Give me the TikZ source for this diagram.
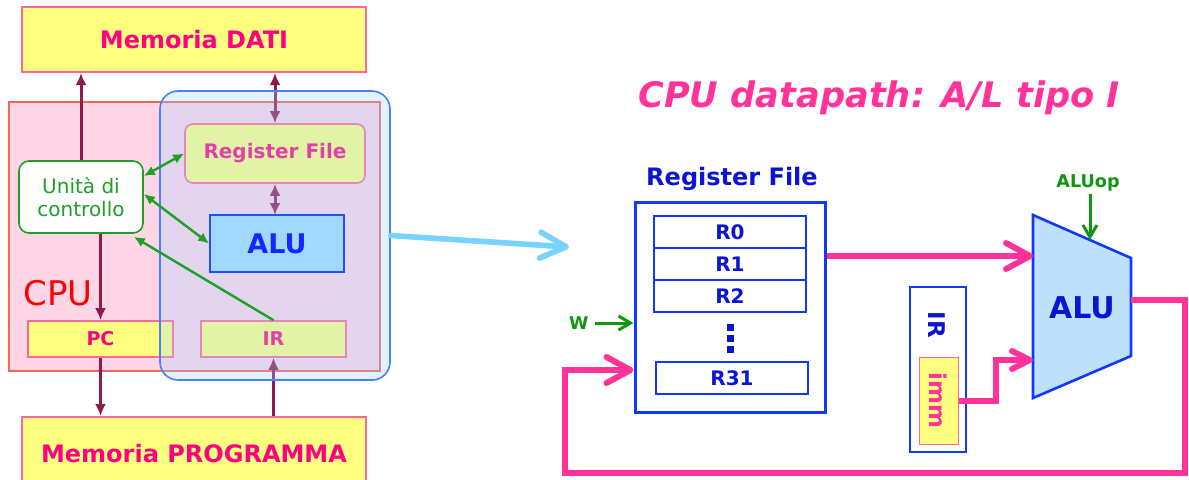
\documentclass[tikz,border=0pt]{standalone}
\usepackage{fontspec}
\setmainfont{DejaVu Sans}
\usepackage{tikz}
\usetikzlibrary{arrows.meta}
\definecolor{memyellow}{RGB}{255,255,128}
\definecolor{memborder}{RGB}{255,102,153}
\definecolor{memtext}{RGB}{255,0,128}
\definecolor{cpupink}{RGB}{255,214,230}
\definecolor{cpuborder}{RGB}{240,100,90}
\definecolor{cpured}{RGB}{255,0,0}
\definecolor{busmaroon}{RGB}{142,26,80}
\definecolor{ctrlgreen}{RGB}{30,160,40}
\definecolor{aluleftfill}{RGB}{160,216,255}
\definecolor{aluleftborder}{RGB}{30,80,255}
\definecolor{alulefttext}{RGB}{20,40,255}
\definecolor{dpoverlay}{RGB}{162,212,255}
\definecolor{dpborder}{RGB}{70,130,245}
\definecolor{dparrow}{RGB}{120,212,255}
\definecolor{titlepink}{RGB}{255,51,153}
\definecolor{rfblue}{RGB}{16,56,255}
\definecolor{rftext}{RGB}{10,20,210}
\definecolor{alufill}{RGB}{190,224,250}
\definecolor{sigreen}{RGB}{16,150,16}

\begin{document}
\begin{tikzpicture}[x=0.5pt, y=-0.5pt,
    memblock/.style={draw=memborder, line width=1pt, fill=memyellow, text=memtext,
        font=\bfseries\fontsize{12}{14}\selectfont, minimum width=172pt, inner sep=0pt},
    cpureg/.style={draw=memborder, line width=0.8pt, fill=memyellow, text=memtext,
        font=\bfseries\fontsize{9.5}{11}\selectfont, minimum width=72.5pt, minimum height=18pt, inner sep=0pt},
    bus/.style={busmaroon, line width=1.5pt},
    ctrlsig/.style={ctrlgreen, line width=1.2pt},
    datawire/.style={titlepink, line width=3pt, line join=miter},
    rfrow/.style={draw=rfblue, line width=0.7pt, fill=white, text=rftext,
        font=\bfseries\fontsize{10}{12}\selectfont, minimum width=76pt, minimum height=16pt, inner sep=0pt},
    sigtext/.style={text=sigreen, font=\bfseries\fontsize{8.8}{10}\selectfont, inner sep=1pt},
    bigbarb/.tip={Straight Barb[length=12pt, width=13pt, round]},
    smallbarb/.tip={Straight Barb[length=9pt, width=9pt, round]},
    sigbarb/.tip={Straight Barb[length=6pt, width=7pt]},
    bushead/.tip={Latex[length=6pt, width=5.5pt]},
    ctrlhead/.tip={Latex[length=5.5pt, width=5pt]}
]
    \useasboundingbox (0,0) rectangle (1189,479);

    % left: the CPU and its memories
    \node(cpu)[draw=cpuborder, line width=0.8pt, fill=cpupink,
        minimum width=185.5pt, minimum height=134.5pt] at (194.5,236.5) {};
    \node(cpulabel)[anchor=base west, inner sep=0pt, text=cpured,
        font=\fontsize{17}{19}\selectfont] at (23,305) {CPU};

    \node(memdati)[memblock, minimum height=32.5pt] at (194,39.5) {Memoria DATI};
    \node(memprog)[memblock, minimum height=36.5pt] at (194,453.5) {Memoria PROGRAMMA};

    \node(regfile)[draw=memborder, line width=0.8pt, fill=memyellow, text=memtext,
        rounded corners=4pt, font=\bfseries\fontsize{10}{12}\selectfont,
        minimum width=90pt, minimum height=29.5pt, inner sep=0pt] at (275,153.5) {Register File};
    \node(pc)[cpureg] at (100.5,339) {PC};
    \node(ir)[cpureg] at (273.5,339) {IR};

    \node(ctrl)[draw=ctrlgreen, line width=0.8pt, fill=white, rounded corners=5pt,
        text=ctrlgreen, align=center, font=\fontsize{10}{11.5}\selectfont,
        minimum width=62pt, minimum height=36pt, inner sep=0pt] at (81,197) {Unità di\\controllo};

    \draw[bus, -{bushead}] (ctrl.north) -- (ctrl.north |- memdati.south);
    \draw[bus, {bushead}-{bushead}] (regfile.north |- memdati.south) -- (regfile.north);
    \draw[bus, {bushead}-{bushead}] (regfile.south) -- (regfile.south |- 0,215);
    \draw[bus, -{bushead}] (pc.north |- ctrl.south) -- (pc.north);
    \draw[bus, -{bushead}] (pc.south) -- (pc.south |- memprog.north);
    \draw[bus, -{bushead}] (ir.south |- memprog.north) -- (ir.south);

    % the datapath part, seen through
    \node(dpzone)[draw=dpborder, line width=0.8pt, fill=dpoverlay, fill opacity=0.3,
        rounded corners=9pt, minimum width=115pt, minimum height=144.5pt] at (275,235.5) {};

    \node(alu)[draw=aluleftborder, line width=0.8pt, fill=aluleftfill, text=alulefttext,
        font=\bfseries\fontsize{13.5}{15}\selectfont,
        minimum width=67pt, minimum height=28.5pt, inner sep=0pt] at (277,243.5) {ALU};

    \draw[ctrlsig, {ctrlhead}-{ctrlhead}] ([yshift=10.5pt]ctrl.east) -- (regfile.west);
    \draw[ctrlsig, {ctrlhead}-{ctrlhead}] ([yshift=1.5pt]ctrl.east) -- (alu.west);
    \draw[ctrlsig, -{ctrlhead}] (ir.north) -- ([xshift=-5pt,yshift=-1.5pt]ctrl.south east);

    \coordinate (dpin) at (569,247);
    \draw[dparrow, line width=2.8pt, line cap=round, -{Straight Barb[length=13pt, width=13pt, round]}]
        (dpzone.east) -- (dpin);

    % right: datapath A/L tipo I
    \node(title)[anchor=base, inner sep=0pt, text=titlepink,
        font=\bfseries\itshape\fontsize{17.6}{20}\selectfont] at (879,107) {CPU datapath: A/L tipo I};

    \node(rftitle)[anchor=base, inner sep=0pt, text=rftext,
        font=\bfseries\fontsize{12}{14}\selectfont] at (732,185) {Register File};
    \node(rf)[draw=rfblue, line width=1.5pt, fill=white,
        minimum width=95pt, minimum height=105pt] at (730,307) {};

    \def\regnames{R0, R1, R2}
    \foreach \reg [count=\i from 0] in \regnames {
        \node(row-\i)[rfrow] at (730, 232+\i*32) {\reg};
    }
    \foreach \i in {0,1,2} {
        \node(dot-\i)[fill=rftext, minimum size=3.5pt, inner sep=0pt] at (730, 327+\i*11) {};
    }
    \node(row-31)[rfrow] at (732,378) {R31};

    \node(wlab)[sigtext, anchor=east] at (591,323) {W};
    \draw[sigreen, line width=1.5pt, -{sigbarb}] ([xshift=2pt]wlab.east) -- (wlab.east -| rf.west);

    % ALU
    \draw[draw=rfblue, line width=1.3pt, fill=alufill]
        (1033,215) -- (1131,258) -- (1131,356) -- (1033,398) -- cycle;
    \node(alur)[text=rftext, font=\bfseries\fontsize{15}{17}\selectfont] at (1082,308) {ALU};
    \coordinate (aluina) at (1033,256);
    \coordinate (aluinb) at (1033,360);
    \coordinate (aluout) at (1131,300);
    \coordinate (alutop) at (1090,240);

    \node(aluop)[sigtext] at (1088,183) {ALUop};
    \draw[sigreen, line width=1.5pt, -{sigbarb}] (aluop.south -| alutop) -- (alutop);

    % IR and its immediate field
    \node(irbox)[draw=rfblue, line width=1.3pt, fill=white,
        minimum width=28pt, minimum height=82.5pt] at (938,369.5) {};
    \node(irtext)[rotate=-90, text=rftext, font=\bfseries\fontsize{11.5}{13}\selectfont] at (937,325) {IR};
    \node(imm)[draw=memborder, line width=0.5pt, fill=memyellow, text=titlepink,
        rotate=-90, font=\bfseries\fontsize{11.5}{13}\selectfont,
        minimum width=43.5pt, minimum height=19.5pt, inner sep=0pt] at (938.5,400.5) {imm};

    % data wires
    \draw[datawire, -{bigbarb}] (aluina -| rf.east) -- (aluina);
    \draw[datawire, -{smallbarb}] (imm.north) -- ++(37,0) |- (aluinb);
    \coordinate (fbr) at (1185,473);
    \coordinate (fbl) at (565,473);
    \draw[datawire, -{bigbarb}] (aluout) -| (fbr) -- (fbl) |- ([yshift=-31.5pt]rf.west);
\end{tikzpicture}
\end{document}
